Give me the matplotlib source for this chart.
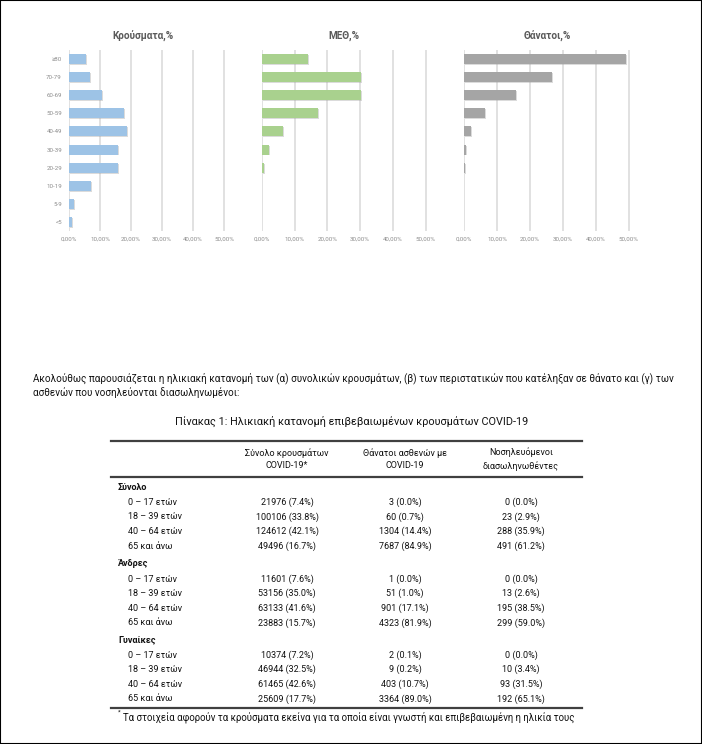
import matplotlib
matplotlib.use("Agg")
import matplotlib.pyplot as plt
from matplotlib.ticker import FuncFormatter, FixedLocator
from matplotlib.lines import Line2D
from matplotlib.patches import Rectangle
import matplotlib.patheffects as pe

plt.rcParams['font.family'] = ['Roboto', 'DejaVu Sans']

# ---------------- data ----------------
age_bands = ["≥80", "70-79", "60-69", "50-59", "40-49", "30-39", "20-29", "10-19", "5-9", "<5"]
cases_pct = [5.4, 6.8, 10.6, 17.6, 18.8, 15.8, 15.8, 7.1, 1.5, 1.1]
icu_pct = [14.1, 30.3, 30.2, 17.3, 6.4, 2.2, 0.8, 0.1, 0.0, 0.1]
deaths_pct = [49.1, 26.6, 15.7, 6.4, 1.9, 0.6, 0.1, 0.0, 0.0, 0.0]
chart_titles = ["Κρούσματα,%", "ΜΕΘ,%", "Θάνατοι,%"]
x_ticks = [0, 10, 20, 30, 40, 50]

paragraph = ["Ακολούθως παρουσιάζεται η ηλικιακή κατανομή των (α) συνολικών κρουσμάτων, (β) των περιστατικών που κατέληξαν σε θάνατο και (γ) των",
             "ασθενών που νοσηλεύονται διασωληνωμένοι:"]
table_title = "Πίνακας 1: Ηλικιακή κατανομή επιβεβαιωμένων κρουσμάτων COVID-19"
col_headers = ["Σύνολο κρουσμάτων\nCOVID-19*", "Θάνατοι ασθενών με\nCOVID-19", "Νοσηλευόμενοι\nδιασωληνωθέντες"]
groups = ["Σύνολο", "Άνδρες", "Γυναίκες"]
age_groups = ["0 – 17 ετών", "18 – 39 ετών", "40 – 64 ετών", "65 και άνω"]

total_cases = [21976, 100106, 124612, 49496]
total_cases_p = [7.4, 33.8, 42.1, 16.7]
total_deaths = [3, 60, 1304, 7687]
total_deaths_p = [0.0, 0.7, 14.4, 84.9]
total_icu = [0, 23, 288, 491]
total_icu_p = [0.0, 2.9, 35.9, 61.2]

men_cases = [11601, 53156, 63133, 23883]
men_cases_p = [7.6, 35.0, 41.6, 15.7]
men_deaths = [1, 51, 901, 4323]
men_deaths_p = [0.0, 1.0, 17.1, 81.9]
men_icu = [0, 13, 195, 299]
men_icu_p = [0.0, 2.6, 38.5, 59.0]

women_cases = [10374, 46944, 61465, 25609]
women_cases_p = [7.2, 32.5, 42.6, 17.7]
women_deaths = [2, 9, 403, 3364]
women_deaths_p = [0.1, 0.2, 10.7, 89.0]
women_icu = [0, 10, 93, 192]
women_icu_p = [0.0, 3.4, 31.5, 65.1]

footnote = "Τα στοιχεία αφορούν τα κρούσματα εκείνα για τα οποία είναι γνωστή και επιβεβαιωμένη η ηλικία τους"

# ---------------- figure ----------------
W, H = 702, 744
fig = plt.figure(figsize=(W / 100, H / 100), dpi=100)
fig.patch.set_facecolor("white")
renderer = fig.canvas.get_renderer()


def fx(x):
    return x / W


def fy(y):
    return 1 - y / H


def fit(t, width_px):
    t.set_fontsize(10)
    w = t.get_window_extent(renderer).width
    t.set_fontsize(10 * width_px / w)
    return t.get_fontsize()


def pct_fmt(v, pos):
    return f"{v:.2f}%".replace(".", ",")


# bar charts: (zero px, px per 10%, xmax)
specs = [(69.0, 31.0, 60, cases_pct, "#9dc3e6"),
         (261.7, 32.8, 60, icu_pct, "#a9d18e"),
         (464.3, 32.9, 55, deaths_pct, "#a5a5a5")]
y_top, y_bot = 50, 231
title_x = [143, 344, 547]
tick_color = "#8c8c8c"
for i, (x0, p10, xmax, vals, col) in enumerate(specs):
    width = p10 * xmax / 10
    ax = fig.add_axes([fx(x0), fy(y_bot), width / W, (y_bot - y_top) / H])
    ypos = list(range(len(age_bands)))
    bars = ax.barh(ypos, vals, height=0.55, color=col, zorder=3)
    for b in bars:
        b.set_path_effects([pe.SimplePatchShadow(offset=(0.7, -0.7), shadow_rgbFace="#9a9a9a", alpha=0.35),
                            pe.Normal()])
    ax.set_xlim(0, xmax)
    ax.set_ylim(len(age_bands) - 0.5, -0.5)
    ax.xaxis.set_major_locator(FixedLocator(x_ticks))
    ax.xaxis.set_major_formatter(FuncFormatter(pct_fmt))
    ax.grid(axis="x", color="#d9d9d9", lw=1.1, zorder=0)
    for s in ax.spines.values():
        s.set_visible(False)
    ax.tick_params(axis="x", length=0, labelsize=4.4, labelcolor=tick_color, pad=4)
    ax.set_yticks(ypos)
    if i == 0:
        ax.set_yticklabels(age_bands)
        ax.tick_params(axis="y", length=0, labelsize=4.4, labelcolor=tick_color, pad=5)
    else:
        ax.set_yticklabels([])
        ax.tick_params(axis="y", length=0)
    t = fig.text(fx(title_x[i]), fy(36), chart_titles[i], ha="center", va="center",
                 fontweight="bold", color="#595959")
    t.set_fontsize(7.2)

# paragraph
t1 = fig.text(fx(33), fy(378), paragraph[0], ha="left", va="center", color="#111111")
psize = fit(t1, 634)
fig.text(fx(33), fy(393), paragraph[1], ha="left", va="center", color="#111111", fontsize=psize)

# table title
tt = fig.text(fx(352), fy(421), table_title, ha="center", va="center", color="#111111")
fit(tt, 353)

# table lines
for yy, lw in [(441, 1.6), (477, 1.6), (708, 1.6)]:
    fig.add_artist(Line2D([fx(111), fx(582)], [fy(yy), fy(yy)], color="#404040", lw=lw))

col_x = [287, 405, 521]
probe = fig.text(0, 0, "100106 (33.8%)")
cell_size = fit(probe, 63)
probe.remove()
for cx, hdr in zip(col_x, col_headers):
    fig.text(fx(cx), fy(459), hdr, ha="center", va="center", fontsize=cell_size,
             color="#111111", linespacing=1.5)

group_data = [
    [(total_cases, total_cases_p), (total_deaths, total_deaths_p), (total_icu, total_icu_p)],
    [(men_cases, men_cases_p), (men_deaths, men_deaths_p), (men_icu, men_icu_p)],
    [(women_cases, women_cases_p), (women_deaths, women_deaths_p), (women_icu, women_icu_p)],
]
group_y = [487.3, 564.0, 640.0]
row_step = 14.6
for g, gy, gdata in zip(groups, group_y, group_data):
    fig.text(fx(118), fy(gy), g, ha="left", va="center", fontsize=cell_size,
             fontweight="bold", color="#111111")
    for r, lab in enumerate(age_groups):
        ry = gy + 15 + r * row_step
        fig.text(fx(128), fy(ry), lab, ha="left", va="center", fontsize=cell_size, color="#111111")
        for cx, (counts, pcts) in zip(col_x, gdata):
            fig.text(fx(cx), fy(ry), f"{counts[r]} ({pcts[r]:.1f}%)", ha="center", va="center",
                     fontsize=cell_size, color="#111111")

# footnote
fig.text(fx(118), fy(712), "*", ha="left", va="center", fontsize=4.5, color="#111111")
ft = fig.text(fx(123), fy(717), footnote, ha="left", va="center", color="#111111")
fit(ft, 449)

# border
fig.add_artist(Rectangle((0, 0), 1, 1, transform=fig.transFigure, fill=False,
                         edgecolor="black", lw=1.5))

fig.savefig("out.png", dpi=100)
